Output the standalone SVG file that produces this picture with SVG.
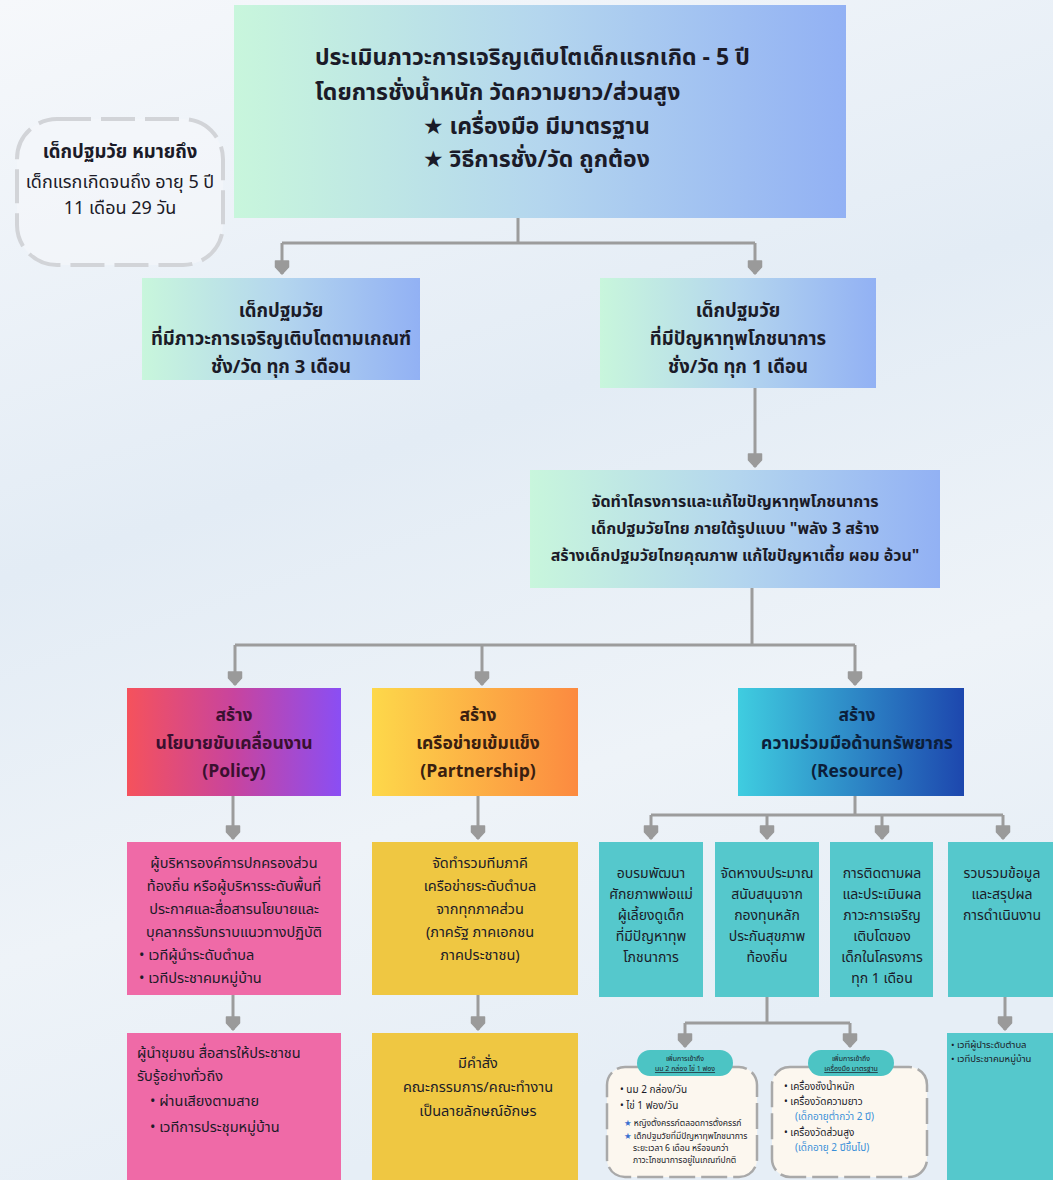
<svg xmlns="http://www.w3.org/2000/svg" width="1053" height="1180" viewBox="0 0 1053 1180">
<defs>
<linearGradient id="bg" x1="0" y1="0" x2="0.3" y2="1">
<stop offset="0" stop-color="#f6f8fb"/>
<stop offset="0.45" stop-color="#e3ecf5"/>
<stop offset="0.75" stop-color="#eef3f8"/>
<stop offset="1" stop-color="#e6eef6"/>
</linearGradient>
<linearGradient id="gBlue" x1="0" y1="0" x2="1" y2="0">
<stop offset="0" stop-color="#c8f6dc"/>
<stop offset="0.5" stop-color="#b4d6ee"/>
<stop offset="1" stop-color="#92b1f4"/>
</linearGradient>
<linearGradient id="gPolicy" x1="0" y1="0" x2="1" y2="0">
<stop offset="0" stop-color="#f5525c"/>
<stop offset="0.5" stop-color="#c8449e"/>
<stop offset="1" stop-color="#8a4ef4"/>
</linearGradient>
<linearGradient id="gPartner" x1="0" y1="0" x2="1" y2="0">
<stop offset="0" stop-color="#fdd84a"/>
<stop offset="1" stop-color="#fc8a40"/>
</linearGradient>
<linearGradient id="gRes" x1="0" y1="0" x2="1" y2="0">
<stop offset="0" stop-color="#3fcde0"/>
<stop offset="1" stop-color="#1d47ae"/>
</linearGradient>
<marker id="arr" markerUnits="userSpaceOnUse" markerWidth="18" markerHeight="18" refX="14" refY="8" orient="auto" viewBox="0 0 18 16">
<path d="M1,1.5 L7,1.5 L14,8 L7,14.5 L1,14.5 Z" fill="#9a9a9a" stroke="#9a9a9a" stroke-width="1.5" stroke-linejoin="round"/>
</marker>
</defs>
<style>
.t{font-family:"Noto Sans Thai","Noto Sans","DejaVu Sans",sans-serif;fill:#1b1b28}
.b{font-weight:bold}
.c{text-anchor:middle}
.h1{font-size:23px}
.h2{font-size:18.5px}
.h3{font-size:16px}
.h4{font-size:17.5px}
.s{font-size:14.5px}
.xs{font-size:14px}
.tiny{font-size:7px}
.sm{font-size:8.5px}
.mini{font-size:10px}
.ln{fill:none;stroke:#9c9c9c;stroke-width:3}
.sub{fill:#fcf7ef;stroke:#a9a9a9;stroke-width:2.5;stroke-dasharray:26 6}
</style>
<rect x="0" y="0" width="1053" height="1180" fill="url(#bg)"/>

<g id="connectors">
<path class="ln" d="M518,218 V243 M282,243 H755"/>
<path class="ln" d="M282,243 V274" marker-end="url(#arr)"/>
<path class="ln" d="M755,243 V274" marker-end="url(#arr)"/>
<path class="ln" d="M755,388 V467" marker-end="url(#arr)"/>
<path class="ln" d="M752,588 V645 M235,645 H855"/>
<path class="ln" d="M235,645 V685" marker-end="url(#arr)"/>
<path class="ln" d="M482,645 V685" marker-end="url(#arr)"/>
<path class="ln" d="M855,645 V685" marker-end="url(#arr)"/>
<path class="ln" d="M233,796 V839" marker-end="url(#arr)"/>
<path class="ln" d="M478,796 V839" marker-end="url(#arr)"/>
<path class="ln" d="M855,796 V815 M651,815 H1003"/>
<path class="ln" d="M651,815 V839" marker-end="url(#arr)"/>
<path class="ln" d="M767,815 V839" marker-end="url(#arr)"/>
<path class="ln" d="M882,815 V839" marker-end="url(#arr)"/>
<path class="ln" d="M1003,815 V839" marker-end="url(#arr)"/>
<path class="ln" d="M233,995 V1030" marker-end="url(#arr)"/>
<path class="ln" d="M478,995 V1030" marker-end="url(#arr)"/>
<path class="ln" d="M767,997 V1023 M685,1023 H850"/>
<path class="ln" d="M685,1023 V1047" marker-end="url(#arr)"/>
<path class="ln" d="M850,1023 V1047" marker-end="url(#arr)"/>
<path class="ln" d="M1005,997 V1030" marker-end="url(#arr)"/>
</g>

<g id="node-top">
<rect x="234" y="5" width="612" height="213" fill="url(#gBlue)"/>
<text class="t b h1" x="315" y="65">ประเมินภาวะการเจริญเติบโตเด็กแรกเกิด - 5 ปี</text>
<text class="t b h1" x="315" y="100">โดยการชั่งน้ำหนัก วัดความยาว/ส่วนสูง</text>
<text class="t b h1" x="423" y="134">★ เครื่องมือ มีมาตรฐาน</text>
<text class="t b h1" x="423" y="167">★ วิธีการชั่ง/วัด ถูกต้อง</text>
</g>

<g id="node-definition">
<rect x="17" y="119" width="206" height="146" rx="40" fill="#f5f7fa" fill-opacity="0.6" stroke="#d2d4d8" stroke-width="4" stroke-dasharray="34 10"/>
<text class="t b c" x="120" y="158" font-size="18.5">เด็กปฐมวัย หมายถึง</text>
<text class="t c" x="120" y="188" font-size="18">เด็กแรกเกิดจนถึง อายุ 5 ปี</text>
<text class="t c" x="120" y="214" font-size="18">11 เดือน 29 วัน</text>
</g>

<g id="node-normal">
<rect x="142" y="278" width="278" height="102" fill="url(#gBlue)"/>
<text class="t b c h2" x="281" y="317">เด็กปฐมวัย</text>
<text class="t b c h2" x="281" y="345">ที่มีภาวะการเจริญเติบโตตามเกณฑ์</text>
<text class="t b c h2" x="281" y="373">ชั่ง/วัด ทุก 3 เดือน</text>
</g>

<g id="node-problem">
<rect x="600" y="278" width="276" height="110" fill="url(#gBlue)"/>
<text class="t b c h2" x="738" y="317">เด็กปฐมวัย</text>
<text class="t b c h2" x="738" y="345">ที่มีปัญหาทุพโภชนาการ</text>
<text class="t b c h2" x="738" y="373">ชั่ง/วัด ทุก 1 เดือน</text>
</g>

<g id="node-project">
<rect x="530" y="470" width="410" height="118" fill="url(#gBlue)"/>
<text class="t b c h3" x="735" y="507">จัดทำโครงการและแก้ไขปัญหาทุพโภชนาการ</text>
<text class="t b c h3" x="735" y="534">เด็กปฐมวัยไทย ภายใต้รูปแบบ  "พลัง 3 สร้าง</text>
<text class="t b c h3" x="735" y="561">สร้างเด็กปฐมวัยไทยคุณภาพ แก้ไขปัญหาเตี้ย ผอม อ้วน"</text>
</g>

<g id="node-policy">
<rect x="127" y="688" width="214" height="108" fill="url(#gPolicy)"/>
<text class="t b c h4" x="234" y="721" style="fill:#3a1030">สร้าง</text>
<text class="t b c h4" x="234" y="749" style="fill:#3a1030">นโยบายขับเคลื่อนงาน</text>
<text class="t b c h4" x="234" y="777" style="fill:#3a1030">(Policy)</text>
</g>

<g id="node-partnership">
<rect x="372" y="688" width="206" height="108" fill="url(#gPartner)"/>
<text class="t b c h4" x="478" y="721" style="fill:#3a2010">สร้าง</text>
<text class="t b c h4" x="478" y="749" style="fill:#3a2010">เครือข่ายเข้มแข็ง</text>
<text class="t b c h4" x="478" y="777" style="fill:#3a2010">(Partnership)</text>
</g>

<g id="node-resource">
<rect x="738" y="688" width="226" height="108" fill="url(#gRes)"/>
<text class="t b c h4" x="857" y="721" style="fill:#0c1e3a">สร้าง</text>
<text class="t b c h4" x="857" y="749" style="fill:#0c1e3a">ความร่วมมือด้านทรัพยากร</text>
<text class="t b c h4" x="857" y="777" style="fill:#0c1e3a">(Resource)</text>
</g>

<g id="node-policy-1">
<rect x="127" y="842" width="214" height="153" fill="#ef6aa7"/>
<text class="t c s" x="234" y="868">ผู้บริหารองค์การปกครองส่วน</text>
<text class="t c s" x="234" y="891">ท้องถิ่น หรือผู้บริหารระดับพื้นที่</text>
<text class="t c s" x="234" y="914">ประกาศและสื่อสารนโยบายและ</text>
<text class="t c s" x="234" y="937">บุคลากรรับทราบแนวทางปฏิบัติ</text>
<text class="t s" x="139" y="960">•  เวทีผู้นำระดับตำบล</text>
<text class="t s" x="139" y="983">•  เวทีประชาคมหมู่บ้าน</text>
</g>

<g id="node-partnership-1">
<rect x="372" y="842" width="206" height="153" fill="#efc742"/>
<text class="t c s" x="480" y="868">จัดทำรวมทีมภาคี</text>
<text class="t c s" x="480" y="891">เครือข่ายระดับตำบล</text>
<text class="t c s" x="480" y="914">จากทุกภาคส่วน</text>
<text class="t c s" x="480" y="937">(ภาครัฐ ภาคเอกชน</text>
<text class="t c s" x="480" y="960">ภาคประชาชน)</text>
</g>

<g id="node-res-1">
<rect x="599" y="842" width="104" height="155" fill="#55c8cc"/>
<text class="t c xs" x="651" y="878">อบรมพัฒนา</text>
<text class="t c xs" x="651" y="899">ศักยภาพพ่อแม่</text>
<text class="t c xs" x="651" y="920">ผู้เลี้ยงดูเด็ก</text>
<text class="t c xs" x="651" y="941">ที่มีปัญหาทุพ</text>
<text class="t c xs" x="651" y="962">โภชนาการ</text>
</g>

<g id="node-res-2">
<rect x="715" y="842" width="104" height="155" fill="#55c8cc"/>
<text class="t c xs" x="767" y="878">จัดหางบประมาณ</text>
<text class="t c xs" x="767" y="899">สนับสนุนจาก</text>
<text class="t c xs" x="767" y="920">กองทุนหลัก</text>
<text class="t c xs" x="767" y="941">ประกันสุขภาพ</text>
<text class="t c xs" x="767" y="962">ท้องถิ่น</text>
</g>

<g id="node-res-3">
<rect x="830" y="842" width="103" height="155" fill="#55c8cc"/>
<text class="t c xs" x="882" y="878">การติดตามผล</text>
<text class="t c xs" x="882" y="899">และประเมินผล</text>
<text class="t c xs" x="882" y="920">ภาวะการเจริญ</text>
<text class="t c xs" x="882" y="941">เติบโตของ</text>
<text class="t c xs" x="882" y="962">เด็กในโครงการ</text>
<text class="t c xs" x="882" y="983">ทุก 1 เดือน</text>
</g>

<g id="node-res-4">
<rect x="948" y="842" width="105" height="155" fill="#55c8cc"/>
<text class="t c xs" x="1002" y="878">รวบรวมข้อมูล</text>
<text class="t c xs" x="1002" y="899">และสรุปผล</text>
<text class="t c xs" x="1002" y="920">การดำเนินงาน</text>
</g>

<g id="node-policy-2">
<rect x="127" y="1033" width="214" height="147" fill="#ef6aa7"/>
<text class="t s" x="137" y="1058">ผู้นำชุมชน สื่อสารให้ประชาชน</text>
<text class="t s" x="137" y="1081">รับรู้อย่างทั่วถึง</text>
<text class="t s" x="150" y="1106">•  ผ่านเสียงตามสาย</text>
<text class="t s" x="150" y="1132">•  เวทีการประชุมหมู่บ้าน</text>
</g>

<g id="node-partnership-2">
<rect x="372" y="1033" width="206" height="147" fill="#efc742"/>
<text class="t c s" x="478" y="1068">มีคำสั่ง</text>
<text class="t c s" x="478" y="1092">คณะกรรมการ/คณะทำงาน</text>
<text class="t c s" x="478" y="1116">เป็นลายลักษณ์อักษร</text>
</g>

<g id="node-milk-egg">
<rect class="sub" x="607" y="1067" width="150" height="110" rx="18"/>
<rect x="637" y="1050" width="96" height="26" rx="13" fill="#4cc4c4"/>
<text class="t c tiny" x="685" y="1061">เพิ่มการเข้าถึง</text>
<text class="t c tiny" x="685" y="1071" text-decoration="underline">นม 2 กล่อง ไข่ 1 ฟอง</text>
<text class="t mini" x="620" y="1093">•  นม 2 กล่อง/วัน</text>
<text class="t mini" x="620" y="1109">•  ไข่ 1 ฟอง/วัน</text>
<text class="t sm" x="624" y="1126"><tspan fill="#3a6fd0">★</tspan> หญิงตั้งครรภ์ตลอดการตั้งครรภ์</text>
<text class="t sm" x="624" y="1139"><tspan fill="#3a6fd0">★</tspan> เด็กปฐมวัยที่มีปัญหาทุพโภชนาการ</text>
<text class="t sm" x="633" y="1151">ระยะเวลา 6 เดือน หรือจนกว่า</text>
<text class="t sm" x="633" y="1163">ภาวะโภชนาการอยู่ในเกณฑ์ปกติ</text>
</g>

<g id="node-tools">
<rect class="sub" x="772" y="1067" width="155" height="110" rx="18"/>
<rect x="808" y="1050" width="86" height="26" rx="13" fill="#4cc4c4"/>
<text class="t c tiny" x="851" y="1061">เพิ่มการเข้าถึง</text>
<text class="t c tiny" x="851" y="1071" text-decoration="underline">เครื่องมือ มาตรฐาน</text>
<text class="t mini" x="784" y="1090">•  เครื่องชั่งน้ำหนัก</text>
<text class="t mini" x="784" y="1105">•  เครื่องวัดความยาว</text>
<text class="t mini" x="795" y="1120" style="fill:#3a8fd8">(เด็กอายุต่ำกว่า 2 ปี)</text>
<text class="t mini" x="784" y="1136">•  เครื่องวัดส่วนสูง</text>
<text class="t mini" x="795" y="1151" style="fill:#3a8fd8">(เด็กอายุ 2 ปีขึ้นไป)</text>
</g>

<g id="node-res-4-1">
<rect x="947" y="1033" width="106" height="147" fill="#55c8cc"/>
<text class="t" x="951" y="1048" font-size="9.5">•  เวทีผู้นำระดับตำบล</text>
<text class="t" x="951" y="1062" font-size="9.5">•  เวทีประชาคมหมู่บ้าน</text>
</g>
</svg>
